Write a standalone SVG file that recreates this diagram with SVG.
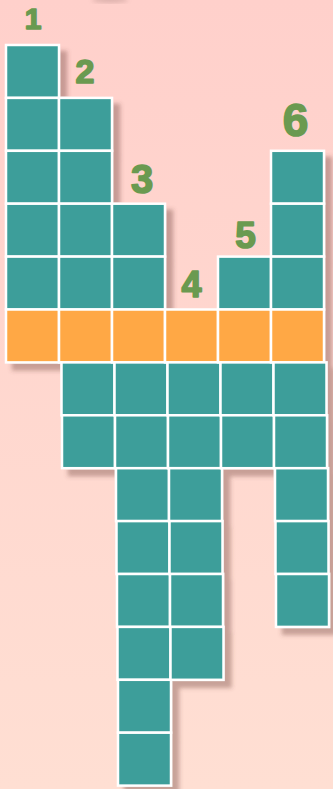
<svg xmlns="http://www.w3.org/2000/svg" width="333" height="789" viewBox="0 0 333 789">
  <defs>
    <linearGradient id="bg" x1="0" y1="0" x2="0" y2="1">
      <stop offset="0" stop-color="#ffd0cb"/>
      <stop offset="1" stop-color="#ffdfd3"/>
    </linearGradient>
    <filter id="sh" x="-10%" y="-10%" width="130%" height="130%">
      <feDropShadow dx="7" dy="7" stdDeviation="2" flood-color="#6e3f3a" flood-opacity="0.38"/>
    </filter>
    <filter id="blur"><feGaussianBlur stdDeviation="2"/></filter>
  </defs>
  <style>
    .t { fill: #3d9e9a; stroke: #ffffff; stroke-width: 2.5; }
    .o { fill: #ffa845; stroke: #ffffff; stroke-width: 2.5; }
    .n { fill: #6a9a50; stroke: #6a9a50; stroke-width: 1.6; stroke-linejoin: round; font-family: "Liberation Sans", "DejaVu Sans", sans-serif; font-weight: bold; text-anchor: middle; }
  </style>
  <rect x="0" y="0" width="333" height="789" fill="url(#bg)"/>
  <ellipse cx="110" cy="0" rx="18" ry="3" fill="#a07a76" opacity="0.35" filter="url(#blur)"/>
  <g id="grid" filter="url(#sh)">
    <g id="col1">
      <rect class="t" x="6" y="45" width="53" height="52.9"/>
      <rect class="t" x="6" y="97.9" width="53" height="52.9"/>
      <rect class="t" x="6" y="150.8" width="53" height="52.9"/>
      <rect class="t" x="6" y="203.7" width="53" height="52.9"/>
      <rect class="t" x="6" y="256.6" width="53" height="52.9"/>
      <rect class="o" x="6" y="309.5" width="53" height="52.9"/>
    </g>
    <g id="col2">
      <rect class="t" x="59" y="97.9" width="53" height="52.9"/>
      <rect class="t" x="59" y="150.8" width="53" height="52.9"/>
      <rect class="t" x="59" y="203.7" width="53" height="52.9"/>
      <rect class="t" x="59" y="256.6" width="53" height="52.9"/>
      <rect class="o" x="59" y="309.5" width="53" height="52.9"/>
      <rect class="t" x="61.5" y="362.4" width="53" height="52.9"/>
      <rect class="t" x="62" y="415.3" width="53" height="52.9"/>
    </g>
    <g id="col3">
      <rect class="t" x="112" y="203.7" width="53" height="52.9"/>
      <rect class="t" x="112" y="256.6" width="53" height="52.9"/>
      <rect class="o" x="112" y="309.5" width="53" height="52.9"/>
      <rect class="t" x="114.5" y="362.4" width="53" height="52.9"/>
      <rect class="t" x="115" y="415.3" width="53" height="52.9"/>
      <rect class="t" x="116" y="468.2" width="53" height="52.9"/>
      <rect class="t" x="116.5" y="521.1" width="53" height="52.9"/>
      <rect class="t" x="117" y="574" width="53" height="52.9"/>
      <rect class="t" x="117.5" y="626.9" width="53" height="52.9"/>
      <rect class="t" x="118" y="679.8" width="53" height="52.9"/>
      <rect class="t" x="118" y="732.7" width="53" height="52.9"/>
    </g>
    <g id="col4">
      <rect class="o" x="165" y="309.5" width="53" height="52.9"/>
      <rect class="t" x="167.5" y="362.4" width="53" height="52.9"/>
      <rect class="t" x="168" y="415.3" width="53" height="52.9"/>
      <rect class="t" x="169" y="468.2" width="53" height="52.9"/>
      <rect class="t" x="169.5" y="521.1" width="53" height="52.9"/>
      <rect class="t" x="170" y="574" width="53" height="52.9"/>
      <rect class="t" x="170.5" y="626.9" width="53" height="52.9"/>
    </g>
    <g id="col5">
      <rect class="t" x="218" y="256.6" width="53" height="52.9"/>
      <rect class="o" x="218" y="309.5" width="53" height="52.9"/>
      <rect class="t" x="220.5" y="362.4" width="53" height="52.9"/>
      <rect class="t" x="221" y="415.3" width="53" height="52.9"/>
    </g>
    <g id="col6">
      <rect class="t" x="271" y="150.8" width="53" height="52.9"/>
      <rect class="t" x="271" y="203.7" width="53" height="52.9"/>
      <rect class="t" x="271" y="256.6" width="53" height="52.9"/>
      <rect class="o" x="271" y="309.5" width="53" height="52.9"/>
      <rect class="t" x="273.5" y="362.4" width="53" height="52.9"/>
      <rect class="t" x="274" y="415.3" width="53" height="52.9"/>
      <rect class="t" x="275" y="468.2" width="53" height="52.9"/>
      <rect class="t" x="275.5" y="521.1" width="53" height="52.9"/>
      <rect class="t" x="276" y="574" width="53" height="52.9"/>
    </g>
  </g>
  <g id="labels">
    <text class="n" x="33" y="29" font-size="30">1</text>
    <text class="n" x="85" y="83" font-size="34">2</text>
    <text class="n" x="142" y="193" font-size="40">3</text>
    <text class="n" x="191.5" y="297" font-size="36">4</text>
    <text class="n" x="245.5" y="248" font-size="37">5</text>
    <text class="n" x="295.5" y="136" font-size="46">6</text>
  </g>
</svg>
